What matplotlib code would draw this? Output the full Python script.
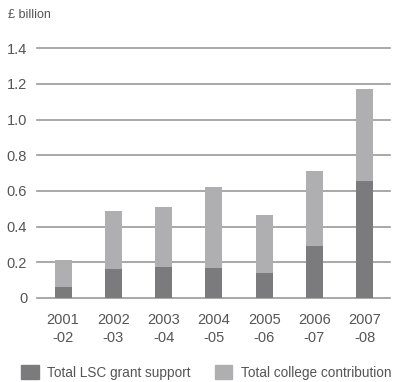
import numpy as np
import matplotlib
matplotlib.use("Agg")
import matplotlib.pyplot as plt
from matplotlib.patches import Patch

plt.rcParams['font.family'] = ['Liberation Sans', 'DejaVu Sans']

years = ["2001\n-02", "2002\n-03", "2003\n-04", "2004\n-05", "2005\n-06", "2006\n-07", "2007\n-08"]
lsc_grant = [0.06, 0.165, 0.175, 0.17, 0.14, 0.29, 0.655]
college_total = [0.215, 0.485, 0.51, 0.62, 0.465, 0.71, 1.17]
college_contrib = [t - g for t, g in zip(college_total, lsc_grant)]
yticks = [0, 0.2, 0.4, 0.6, 0.8, 1.0, 1.2, 1.4]
ylabels = ["0", "0.2", "0.4", "0.6", "0.8", "1.0", "1.2", "1.4"]

dark = "#7b7b7d"
light = "#afafb1"
txt = "#555555"

fig = plt.figure(figsize=(3.93, 3.82), dpi=100)
ax = fig.add_axes([0.094, 0.22, 0.898, 0.654])

x = np.arange(len(years))
ax.bar(x, lsc_grant, width=0.34, color=dark, zorder=3)
ax.bar(x, college_contrib, width=0.34, bottom=lsc_grant, color=light, zorder=3)

ax.set_xlim(-0.52, 6.5)
ax.set_ylim(0, 1.4)
ax.set_yticks(yticks)
ax.set_yticklabels(ylabels)
ax.set_xticks(x)
ax.set_xticklabels(years, linespacing=1.35)
for y in yticks:
    ax.axhline(y, color="#9a9a9a", lw=1.2, zorder=1, clip_on=False)
for s in ax.spines.values():
    s.set_visible(False)
ax.tick_params(length=0, colors=txt, labelsize=10.5)
ax.tick_params(axis='x', pad=11)
ax.tick_params(axis='y', pad=7)

fig.text(0.02, 0.96, "£ billion", fontsize=9, color=txt, va="center")

handles = [Patch(color=dark), Patch(color=light)]
fig.legend(handles, ["Total LSC grant support", "Total college contribution"],
           loc="center", bbox_to_anchor=(0.524, 0.025), ncol=2, frameon=False,
           fontsize=9.8, labelcolor=txt, handlelength=1.3, handleheight=1.25,
           columnspacing=1.8, handletextpad=0.6, borderpad=0)

fig.savefig("out.png", dpi=100)
